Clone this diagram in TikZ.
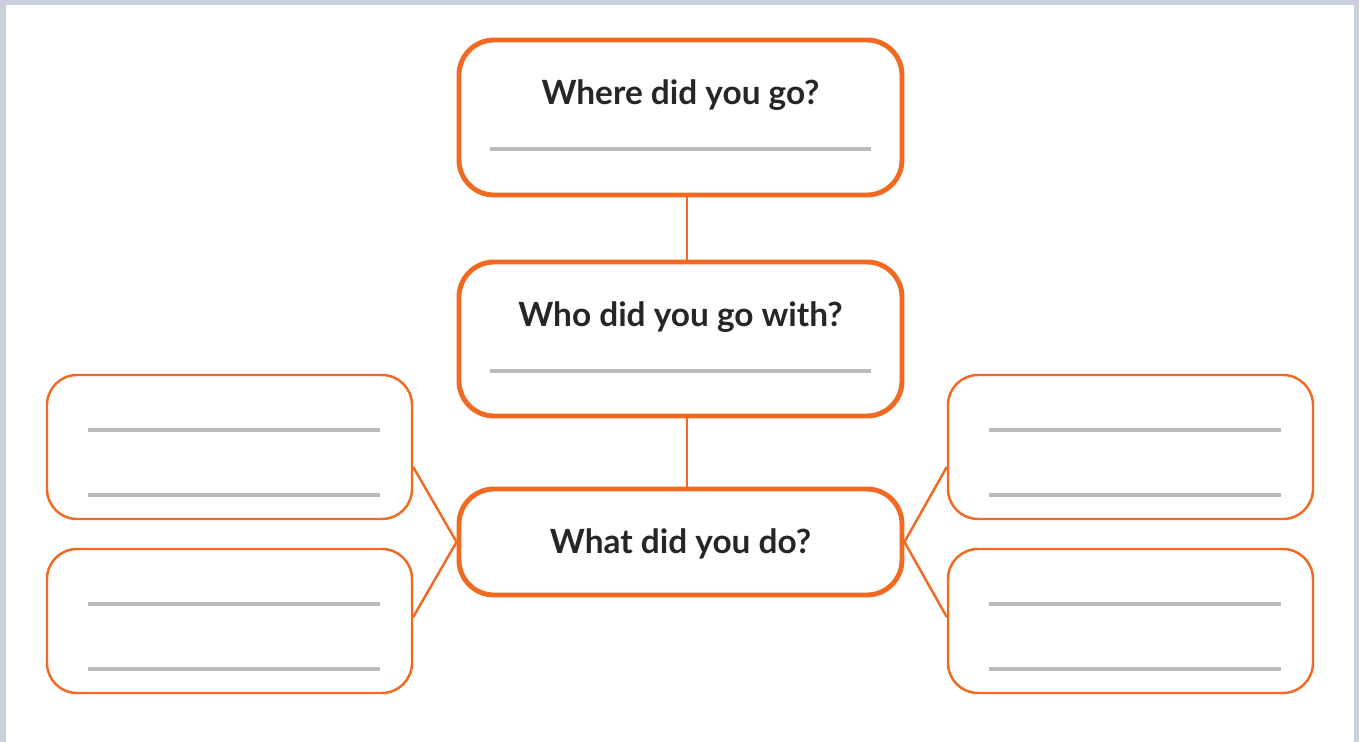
\documentclass[tikz,border=0pt]{standalone}
\usepackage{fontspec}
\setmainfont{Lato}
\usepackage{tikz}
\usetikzlibrary{positioning,calc}
\definecolor{frameorange}{HTML}{F26A22}
\definecolor{ruleline}{HTML}{B8BABD}
\definecolor{pageedge}{HTML}{CACEDD}

\begin{document}
\begin{tikzpicture}[
  font=\fontsize{19}{22}\selectfont\bfseries,
  bigbox/.style={draw=frameorange, line width=2.8pt, rounded corners=0.7cm, fill=white},
  smallbox/.style={draw=frameorange, line width=1.4pt, rounded corners=0.6cm, fill=white,
    minimum width=7.3cm, minimum height=2.88cm},
  qtext/.style={text=black!85!white, inner sep=0pt},
  rule/.style={draw=ruleline, line width=2pt},
  lk/.style={draw=frameorange, line width=1.4pt},
]
% page background with its grey edge
\fill[pageedge] (0,0) rectangle (27.18,-14.84);
\fill[white] (0.12,-0.1) rectangle (27.08,-14.84);
\useasboundingbox (0,0) rectangle (27.18,-14.84);

% the three question boxes
\node[bigbox, minimum width=8.86cm, minimum height=3.1cm] (where) at (13.61,-2.35) {};
\node[bigbox, minimum width=8.86cm, minimum height=3.08cm] (who) at (13.61,-6.78) {};
\node[bigbox, minimum width=8.86cm, minimum height=2.12cm] (what) at (13.61,-10.84) {};
\node[qtext] (qwhere) at ([yshift=.45cm]where.center) {Where did you go?};
\node[qtext] (qwho) at ([yshift=.43cm]who.center) {Who did you go with?};
\node[qtext] (qwhat) at ([yshift=-.03cm]what.center) {What did you do?};
\draw[rule] ([xshift=.66cm,yshift=-.63cm]where.west) -- ([xshift=-.66cm,yshift=-.63cm]where.east);
\draw[rule] ([xshift=.66cm,yshift=-.64cm]who.west) -- ([xshift=-.66cm,yshift=-.64cm]who.east);

% answer boxes on both sides
\node[smallbox] (lup) at (4.59,-8.94) {};
\node[smallbox] (ldown) at (4.59,-12.42) {};
\node[smallbox] (rup) at (22.61,-8.94) {};
\node[smallbox] (rdown) at (22.61,-12.42) {};
\foreach \b in {lup,ldown,rup,rdown}{
  \draw[rule] ([xshift=.84cm,yshift=.34cm]\b.west) -- ([xshift=-.66cm,yshift=.34cm]\b.east);
  \draw[rule] ([xshift=.84cm,yshift=-.96cm]\b.west) -- ([xshift=-.66cm,yshift=-.96cm]\b.east);
}

% links
\draw[lk] ([xshift=.13cm]where.south) -- ([xshift=.13cm]who.north);
\draw[lk] ([xshift=.13cm]who.south) -- ([xshift=.13cm]what.north);
\draw[lk] ([yshift=-.4cm]lup.east) -- (what.west);
\draw[lk] ([yshift=.08cm]ldown.east) -- (what.west);
\draw[lk] ([yshift=-.4cm]rup.west) -- (what.east);
\draw[lk] ([yshift=.08cm]rdown.west) -- (what.east);
\end{tikzpicture}
\end{document}
